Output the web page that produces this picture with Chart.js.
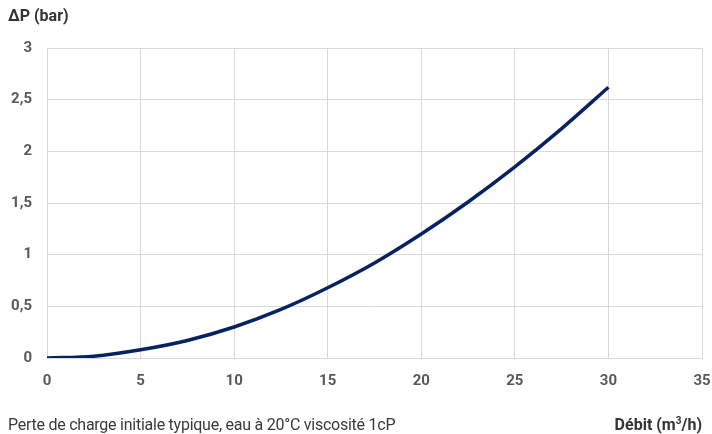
<!DOCTYPE html>
<html>
<head>
<meta charset="utf-8">
<script src="https://cdn.jsdelivr.net/npm/chart.js@4/dist/chart.umd.min.js"></script>
<style>
html,body{margin:0;padding:0;background:#fff;}
#wrap{position:relative;width:712px;height:434px;}
canvas{position:absolute;left:0;top:0;}
.lbl{position:absolute;font-family:Roboto,"Liberation Sans",sans-serif;font-size:16px;color:#3a3a3a;white-space:nowrap;}
</style>
</head>
<body>
<div id="wrap">
<canvas id="c" width="712" height="434"></canvas>
<div class="lbl" style="left:8px;top:6px;font-weight:bold;color:#333;">ΔP (bar)</div>
<div class="lbl" style="left:8px;top:415px;letter-spacing:-0.25px;">Perte de charge initiale typique, eau à 20°C viscosité 1cP</div>
<div class="lbl" style="right:10px;top:415px;font-weight:bold;color:#333;">Débit (m<sup style="font-size:10px;line-height:0;">3</sup>/h)</div>
</div>
<script>
const flowRates = [0, 2.5, 5, 7.5, 10, 12.5, 15, 17.5, 20, 22.5, 25, 27.5, 30];
const pressureDrop = [0, 0.018, 0.08, 0.17, 0.30, 0.47, 0.68, 0.92, 1.20, 1.51, 1.85, 2.22, 2.62];
const xTicks = [0, 5, 10, 15, 20, 25, 30, 35];
const yTicks = [0, 0.5, 1, 1.5, 2, 2.5, 3];

const points = flowRates.map((x, i) => ({x: x, y: pressureDrop[i]}));
const tickFont = {family: 'Roboto, "Liberation Sans", sans-serif', size: 15, weight: 'bold'};

new Chart(document.getElementById('c'), {
  type: 'line',
  data: {
    datasets: [{
      data: points,
      borderColor: '#062262',
      borderWidth: 3.5,
      pointRadius: 0,
      fill: false,
      cubicInterpolationMode: 'monotone'
    }]
  },
  options: {
    responsive: false,
    animation: false,
    layout: {padding: {top: 48, right: 10, left: 0, bottom: 0}},
    plugins: {legend: {display: false}, tooltip: {enabled: false}},
    scales: {
      x: {
        type: 'linear',
        min: xTicks[0], max: xTicks[xTicks.length - 1],
        afterBuildTicks: s => { s.ticks = xTicks.map(v => ({value: v})); },
        afterFit: s => { s.height = 76; s.paddingRight = 0; s.paddingLeft = 0; },
        grid: {color: '#d9d9d9', lineWidth: 1, drawTicks: false},
        border: {color: '#d9d9d9'},
        ticks: {color: '#595959', font: tickFont, padding: 14, maxRotation: 0}
      },
      y: {
        min: yTicks[0], max: yTicks[yTicks.length - 1],
        afterBuildTicks: s => { s.ticks = yTicks.map(v => ({value: v})); },
        afterFit: s => { s.width = 47; },
        grid: {color: '#d9d9d9', lineWidth: 1, drawTicks: false},
        border: {display: false},
        ticks: {color: '#595959', font: tickFont, padding: 15,
          callback: v => String(v).replace('.', ',')}
      }
    }
  }
});
</script>
</body>
</html>
